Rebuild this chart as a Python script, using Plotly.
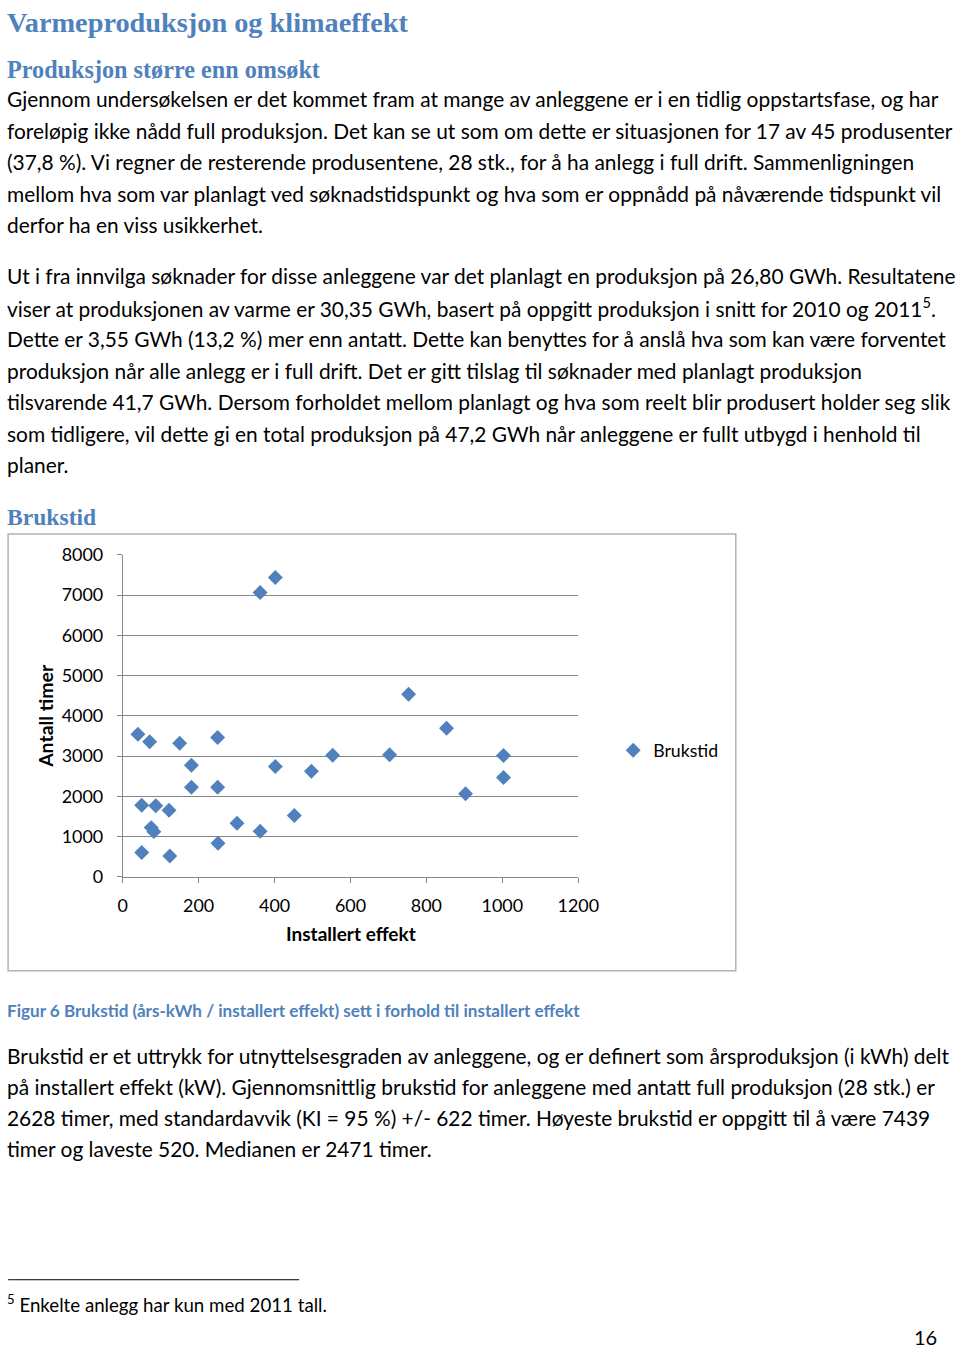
import plotly.graph_objects as go

W, H = 960, 1358
# the photographed page shows the figure slightly reduced and offset; positions below are
# given in reference-picture pixels and converted with this measured mapping
SX, OX = 0.976, 3.9
SY, OY = 0.984, 11.0

# ---- chart data ----
installert_effekt = [40, 71, 150, 250, 181, 181, 250, 50, 87, 122, 75, 82, 50, 124, 251,
                     301, 362, 362, 402, 402, 452, 497, 553, 703, 753, 853, 903, 1003, 1003]
brukstid = [3545, 3354, 3320, 3461, 2775, 2228, 2228, 1780, 1764, 1656, 1223, 1123, 604, 520, 836,
            1333, 1133, 7064, 7439, 2740, 1524, 2623, 3022, 3031, 4538, 3693, 2062, 3014, 2467]
x_ticks = [0, 200, 400, 600, 800, 1000, 1200]
y_ticks = [0, 1000, 2000, 3000, 4000, 5000, 6000, 7000, 8000]

# ---- page text ----
title = "Varmeproduksjon og klimaeffekt"
sub1 = "Produksjon større enn omsøkt"
sub2 = "Brukstid"
para1 = [
    "Gjennom undersøkelsen er det kommet fram at mange av anleggene er i en tidlig oppstartsfase, og har",
    "foreløpig ikke nådd full produksjon. Det kan se ut som om dette er situasjonen for 17 av 45 produsenter",
    "(37,8 %). Vi regner de resterende produsentene, 28 stk., for å ha anlegg i full drift. Sammenligningen",
    "mellom hva som var planlagt ved søknadstidspunkt og hva som er oppnådd på nåværende tidspunkt vil",
    "derfor ha en viss usikkerhet.",
]
para2 = [
    "Ut i fra innvilga søknader for disse anleggene var det planlagt en produksjon på 26,80 GWh. Resultatene",
    "viser at produksjonen av varme er 30,35 GWh, basert på oppgitt produksjon i snitt for 2010 og 2011<sup>5</sup>.",
    "Dette er 3,55 GWh (13,2 %) mer enn antatt. Dette kan benyttes for å anslå hva som kan være forventet",
    "produksjon når alle anlegg er i full drift. Det er gitt tilslag til søknader med planlagt produksjon",
    "tilsvarende 41,7 GWh. Dersom forholdet mellom planlagt og hva som reelt blir produsert holder seg slik",
    "som tidligere, vil dette gi en total produksjon på 47,2 GWh når anleggene er fullt utbygd i henhold til",
    "planer.",
]
caption = "Figur 6 Brukstid (års-kWh / installert effekt) sett i forhold til installert effekt"
para3 = [
    "Brukstid er et uttrykk for utnyttelsesgraden av anleggene, og er definert som årsproduksjon (i kWh) delt",
    "på installert effekt (kW). Gjennomsnittlig brukstid for anleggene med antatt full produksjon (28 stk.) er",
    "2628 timer, med standardavvik (KI = 95 %) +/- 622 timer. Høyeste brukstid er oppgitt til å være 7439",
    "timer og laveste 520. Medianen er 2471 timer.",
]
footnote = "<sup>5</sup> Enkelte anlegg har kun med 2011 tall."
page_no = "16"

BLUE = "#4F81BD"
BODY_FONT = "Lato"
SERIF = "Liberation Serif"


def px(x):
    """reference-picture x -> paper x"""
    return min(max((x - OX) / SX / W, 0), 1)


def py(y):
    """reference-picture y -> paper y"""
    return min(max(1 - (y - OY) / SY / H, 0), 1)


fig = go.Figure()
fig.add_trace(go.Scatter(
    x=installert_effekt, y=brukstid, mode="markers", name="Brukstid",
    marker=dict(symbol="diamond", size=11.5, color=BLUE),
))

annotations = []


def text(s, x, y, size, color="#000000", family=BODY_FONT, anchor="left", bold=False):
    if bold:
        s = "<b>" + s + "</b>"
    annotations.append(dict(text=s, x=px(x), y=py(y), xref="paper", yref="paper",
                            xanchor=anchor, yanchor="middle", showarrow=False,
                            font=dict(size=size, color=color, family=family)))


BODY = 20.9
LEFT = 3.9
text(title, LEFT, 21.5, 28.3, BLUE, SERIF, bold=True)
text(sub1, LEFT, 69, 24.2, BLUE, SERIF, bold=True)
for i, line in enumerate(para1):
    text(line, LEFT, 98 + i * 31.5, BODY)
for i, line in enumerate(para2):
    text(line, LEFT, 275 + i * 31.5, BODY)
text(sub2, LEFT, 516, 23.6, BLUE, SERIF, bold=True)
text(caption, LEFT, 1010, 17.1, BLUE, BODY_FONT, bold=True)
for i, line in enumerate(para3):
    text(line, LEFT, 1055 + i * 31, BODY)
text(footnote, LEFT, 1303, 18.7)
text(page_no, 942, 1336, 20, anchor="right")

text("Installert effekt", 351, 933, 19, bold=True, anchor="center")
annotations.append(dict(text="<b>Antall timer</b>", x=px(45), y=py(715), xref="paper", yref="paper",
                        xanchor="center", yanchor="middle", showarrow=False, textangle=-90,
                        font=dict(size=19.4, color="#000000", family=BODY_FONT)))

shapes = [
    dict(type="rect", xref="paper", yref="paper", x0=px(7), x1=px(737), y0=py(970), y1=py(533),
         line=dict(color="#B3B3B3", width=1.5), fillcolor="rgba(0,0,0,0)", layer="below"),
    dict(type="line", xref="paper", yref="paper", x0=px(7), x1=px(299), y0=py(1279), y1=py(1279),
         line=dict(color="#000000", width=1)),
]

fig.update_layout(
    width=W, height=H, margin=dict(l=0, r=0, t=0, b=0),
    paper_bgcolor="white", plot_bgcolor="white",
    annotations=annotations, shapes=shapes,
    showlegend=True,
    legend=dict(x=px(614), y=py(750), xanchor="left", yanchor="middle",
                font=dict(size=17.7, family=BODY_FONT, color="#000000"),
                bgcolor="rgba(0,0,0,0)", itemwidth=30),
    xaxis=dict(domain=[px(122), px(579)], range=[0, 1200], tickvals=x_ticks,
               showgrid=False, showline=True, linecolor="#868686", linewidth=1,
               ticks="outside", ticklen=5, tickcolor="#868686", zeroline=False,
               tickfont=dict(size=17.9, family=BODY_FONT, color="#000000"), ticklabelstandoff=8),
    yaxis=dict(domain=[py(876), py(554)], range=[0, 8000], tickvals=y_ticks,
               showgrid=True, gridcolor="#868686", gridwidth=1,
               showline=True, linecolor="#868686", linewidth=1,
               ticks="outside", ticklen=5, tickcolor="#868686", zeroline=False,
               tickfont=dict(size=17.9, family=BODY_FONT, color="#000000"), ticklabelstandoff=10),
)

fig.write_html("out.html", config={"displayModeBar": False},
               post_script="document.body.style.margin='0px';")
